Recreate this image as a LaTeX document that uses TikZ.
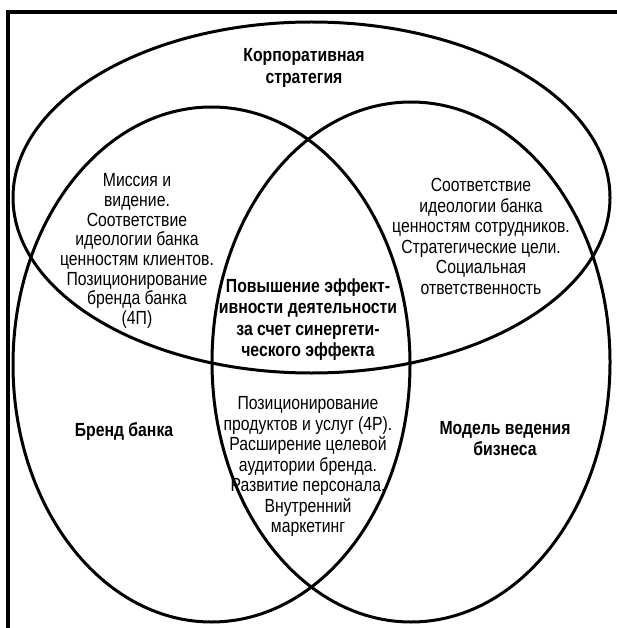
\documentclass[tikz,border=0pt]{standalone}
\usepackage{fontspec}
\setmainfont{Liberation Sans}[FakeStretch=0.83]
\usepackage{tikz}

\begin{document}
\begin{tikzpicture}[
  x=1pt, y=-1pt,
  frame/.style={draw, line width=4pt},
  venn/.style={draw, line width=3pt},
  txt/.style={align=center, inner sep=0pt, font=\fontsize{19}{20.5}\selectfont},
  head/.style={align=center, inner sep=0pt, font=\fontsize{19}{21.5}\selectfont\bfseries}
]
\useasboundingbox (0,0) rectangle (617,628);

% Frame
\coordinate (fr_tl) at (8,12);
\coordinate (fr_tr) at (617,12);
\coordinate (fr_bl) at (8,628);
\draw[frame] (fr_tr) -- (fr_tl) -- (fr_bl);

% Circles
\coordinate (c_corp) at (311.5,197.5);
\coordinate (c_brand) at (211.5,364.5);
\coordinate (c_model) at (411,362);
\draw[venn] (c_corp) ellipse [x radius=298.5, y radius=175.5];
\draw[venn] (c_brand) ellipse [x radius=198.5, y radius=257.5];
\draw[venn] (c_model) ellipse [x radius=199, y radius=260];

% Titles
\node[head] (corp) at (304,68) {Корпоративная\\стратегия};
\node[head] (brand) at (124,431) {Бренд банка};
\node[head] (model) at (505,438.5) {Модель ведения\\бизнеса};

% Overlaps
\node[txt, font=\fontsize{19}{19.7}\selectfont] (corp_brand) at (137,251)
  {Миссия и\\видение.\\Соответствие\\идеологии банка\\ценностям клиентов.\\Позиционирование\\бренда банка\\(4П)};
\node[txt] (corp_model) at (481,236.5)
  {Соответствие\\идеологии банка\\ценностям сотрудников.\\Стратегические цели.\\Социальная\\ответственность};
\node[txt] (brand_model) at (308,466.5)
  {Позиционирование\\продуктов и услуг (4P).\\Расширение целевой\\аудитории бренда.\\Развитие персонала.\\Внутренний\\маркетинг};

% Center
\node[head] (synergy) at (308,319.5)
  {Повышение эффект-\\ивности деятельности\\за счет синергети-\\ческого эффекта};

\end{tikzpicture}
\end{document}
